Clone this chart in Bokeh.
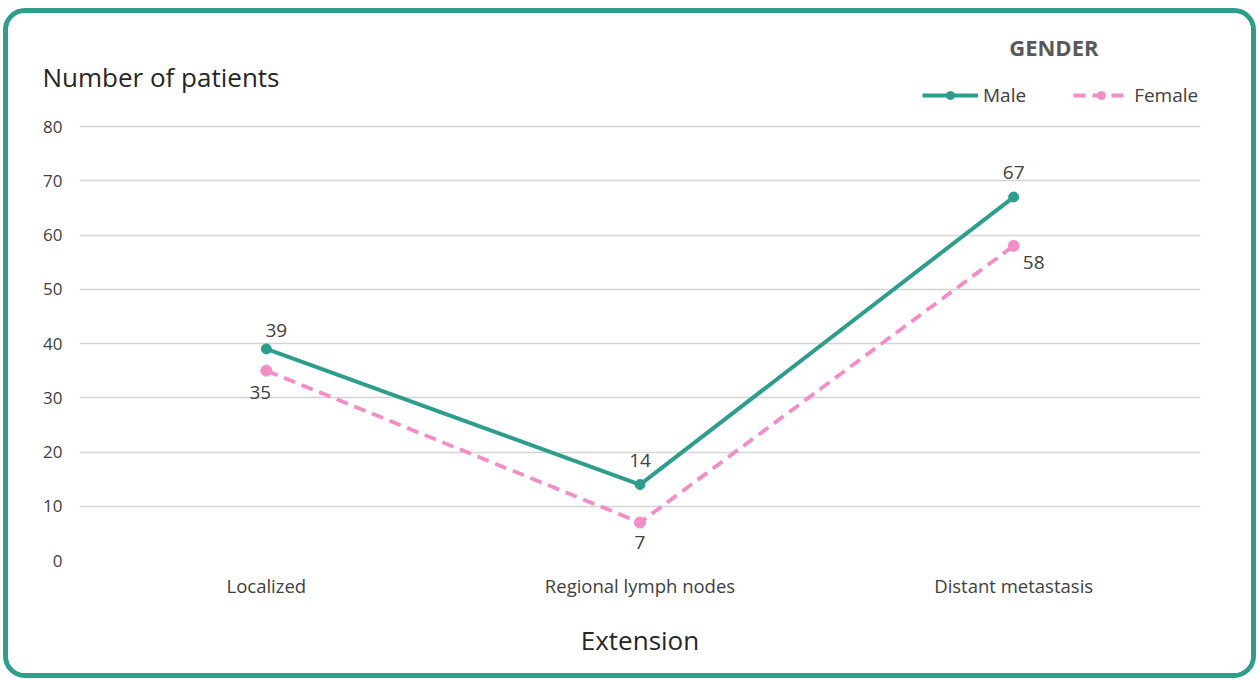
from bokeh.plotting import figure
from bokeh.models import (ColumnDataSource, Range1d, FixedTicker, LabelSet,
                          Legend, LegendItem, Title)
from bokeh.core.properties import value
from bokeh.embed import file_html
from bokeh.resources import INLINE

categories = ["Localized", "Regional lymph nodes", "Distant metastasis"]
male = [39, 14, 67]
female = [35, 7, 58]
y_ticks = [0, 10, 20, 30, 40, 50, 60, 70, 80]

TEAL = "#2E9D8B"
PINK = "#F28DC6"
TXT = "#404040"
FONT = "Open Sans"

src = ColumnDataSource(dict(
    cat=categories, male=male, female=female,
    male_txt=[str(v) for v in male], female_txt=[str(v) for v in female],
    m_xoff=[10, 0, 0], m_yoff=[18, 24, 25],
    f_xoff=[-6, 0, 20], f_yoff=[-22, -20, -17],
))

p = figure(width=1253, height=670, x_range=categories, y_range=Range1d(0, 88.3),
           title=None, output_backend="svg", toolbar_location=None,
           min_border_left=71, min_border_right=61, min_border_top=0, min_border_bottom=123)
p.styles = {"border": "5px solid #2E9E8C", "border-radius": "22px", "overflow": "hidden",
            "margin-left": "3px", "margin-top": "8px"}
p.outline_line_color = None
p.background_fill_color = "white"
p.border_fill_color = "white"

# axes
p.yaxis.ticker = FixedTicker(ticks=y_ticks)
p.yaxis.axis_line_color = None
p.yaxis.major_tick_line_color = None
p.yaxis.minor_tick_line_color = None
p.yaxis.major_tick_out = 0
p.yaxis.major_tick_in = 0
p.yaxis.major_label_standoff = 17
p.yaxis.major_label_text_font = FONT
p.yaxis.major_label_text_font_size = "17px"
p.yaxis.major_label_text_color = TXT

p.xaxis.axis_line_color = None
p.xaxis.major_tick_line_color = None
p.xaxis.major_tick_out = 0
p.xaxis.major_tick_in = 0
p.xaxis.major_label_standoff = 12
p.xaxis.major_label_text_font = FONT
p.xaxis.major_label_text_font_size = "18.5px"
p.xaxis.major_label_text_color = TXT
p.xaxis.axis_label = "Extension"
p.xaxis.axis_label_text_font = FONT
p.xaxis.axis_label_text_font_size = "26px"
p.xaxis.axis_label_text_font_style = "normal"
p.xaxis.axis_label_text_color = "#262626"
p.xaxis.axis_label_standoff = 21

p.xgrid.grid_line_color = None
p.ygrid.grid_line_color = "#D4D4D4"
p.ygrid.grid_line_width = 1.5

# series
ml = p.line("cat", "male", source=src, line_color=TEAL, line_width=4)
ms = p.scatter("cat", "male", source=src, size=10, fill_color=TEAL, line_color=TEAL)
fl = p.line("cat", "female", source=src, line_color=PINK, line_width=3.8, line_dash="12 7")
fs = p.scatter("cat", "female", source=src, size=11, fill_color=PINK, line_color=PINK)

p.add_layout(LabelSet(x="cat", y="male", text="male_txt", source=src, x_offset="m_xoff",
                      y_offset="m_yoff", text_align="center", text_baseline="middle",
                      text_font=value(FONT), text_font_size="19px", text_color=TXT))
p.add_layout(LabelSet(x="cat", y="female", text="female_txt", source=src, x_offset="f_xoff",
                      y_offset="f_yoff", text_align="center", text_baseline="middle",
                      text_font=value(FONT), text_font_size="19px", text_color=TXT))

# titles (first added sits closest to the plot area)
p.add_layout(Title(text="Number of patients", align="left", offset=-37, standoff=-26,
                   text_font=FONT, text_font_size="26px", text_font_style="normal",
                   text_color="#262626"), "above")
p.add_layout(Title(text="GENDER", align="right", offset=102, standoff=16,
                   text_font=FONT, text_font_size="22px", text_font_style="bold",
                   text_color="#595959"), "above")
p.add_layout(Title(text=" ", align="left", standoff=5, text_font=FONT,
                   text_font_size="1px"), "above")

legend = Legend(items=[LegendItem(label="Male", renderers=[ml, ms]),
                       LegendItem(label="Female", renderers=[fl, fs])],
                orientation="horizontal", location=(843, 452), padding=0, margin=0,
                spacing=47, glyph_width=56, glyph_height=20, label_height=20,
                label_standoff=5, label_text_font=FONT, label_text_font_size="19px",
                label_text_color=TXT, border_line_color=None, background_fill_alpha=0)
p.add_layout(legend, "center")

open("out.html", "w").write(file_html(p, INLINE))
